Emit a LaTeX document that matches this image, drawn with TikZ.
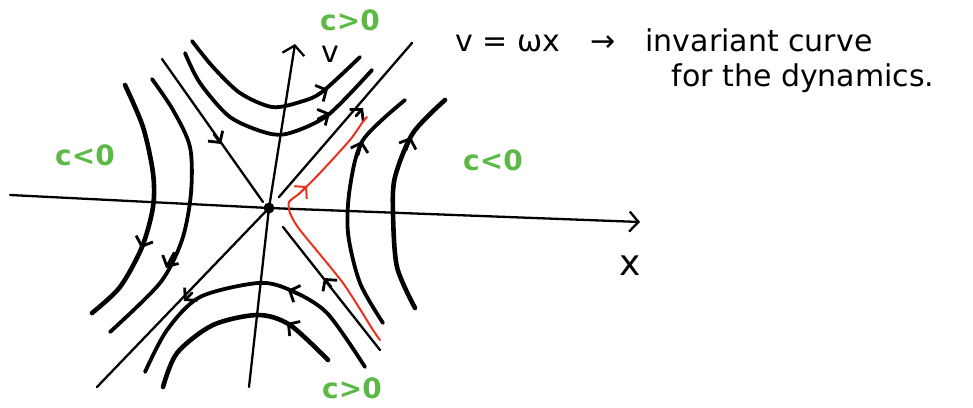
\documentclass[tikz,border=0pt]{standalone}
\usepackage{fontspec}
\setsansfont{DejaVu Sans}
\usetikzlibrary{arrows.meta}
\definecolor{regiongreen}{HTML}{5CB946}
\definecolor{curvered}{HTML}{E8321E}
\tikzset{
  flowline/.style={line width=3.8pt, line cap=round},
  sepline/.style={line width=2.3pt, line cap=round},
  flowtip/.style={line width=2.8pt, line cap=round, -{Straight Barb[length=8pt,width=18pt]}},
  regionlabel/.style={regiongreen, inner sep=0pt, font=\sffamily\bfseries\fontsize{28}{30}\selectfont},
  notetext/.style={anchor=west, font=\sffamily\fontsize{30}{32}\selectfont}
}

\begin{document}
\begin{tikzpicture}[x=1pt, y=-1pt]
  \useasboundingbox (0,0) rectangle (973,407);
  % axes
  \coordinate (O) at (269,208);
  \coordinate (xleft) at (10,195);
  \coordinate (xright) at (640,222);
  \coordinate (vbottom) at (249,387);
  \coordinate (vtop) at (295,44);
  \draw[sepline, -{Straight Barb[length=9pt,width=20pt]}] (xleft) -- (O) -- (xright);
  \draw[sepline, -{Straight Barb[length=9pt,width=22pt]}] (vbottom) -- (O) -- (vtop);
  \fill (O) circle (5.5pt);
  \node[font=\sffamily\fontsize{36}{36}\selectfont] (xlabel) at (630,266) {x};
  \node[inner sep=0pt, font=\sffamily\fontsize{30}{30}\selectfont] (vlabel) at (330,54) {v};

  % separatrices
  \draw[sepline] (162,59) -- (263,202);
  \draw[sepline] (380,350) -- (283,227);
  \draw[sepline] (O) -- (97,387);
  \draw[sepline] (279,197) -- (412,43);
  \draw[flowtip] (214,134) -- (221,144);
  \draw[flowtip] (331,287) -- (324,278);
  \draw[flowtip] (192,293) -- (184,301);
  \draw[flowtip] (356,116) -- (363,108);

  % trajectories
  \draw[flowline] plot[smooth] coordinates {(192,41) (213,67) (240,93) (272,107) (300,102) (322,92) (360,57)};
  \draw[flowline] plot[smooth] coordinates {(185,53) (200,83) (230,117) (267,133) (290,133) (328,115) (372,70)};
  \draw[flowline] plot[smooth] coordinates {(365,367) (327,313) (290,290) (258,283) (200,297) (167,330) (145,372)};
  \draw[flowline, line width=4.6pt] plot[smooth] coordinates {(328,360) (290,325) (258,315) (213,325) (177,353) (163,387)};
  \draw[flowline, line width=4.6pt] plot[smooth] coordinates {(125,85) (143,127) (153,173) (153,207) (142,247) (120,287) (92,313)};
  \draw[flowline] plot[smooth] coordinates {(152,79) (173,110) (190,147) (191,193) (182,240) (160,283) (110,332)};
  \draw[flowline] plot[smooth] coordinates {(383,323) (360,283) (348,233) (350,187) (363,140) (405,100)};
  \draw[flowline, line width=4.6pt] plot[smooth] coordinates {(415,308) (397,267) (393,213) (395,177) (413,133) (445,100)};
  \draw[flowtip] (318,94) -- (328,89);
  \draw[flowtip] (318,119) -- (330,113);
  \draw[flowtip] (300,295) -- (288,290);
  \draw[flowtip] (298,331) -- (287,323);
  \draw[flowtip] (146,235) -- (141,248);
  \draw[flowtip] (174,253) -- (166,268);
  \draw[flowtip] (358,155) -- (362,141);
  \draw[flowtip] (406,150) -- (411,137);

  % the invariant curve
  \draw[curvered, line width=2pt, line cap=round] plot[smooth, tension=0.4] coordinates {(380,340) (373,330) (343,283) (300,230) (290,213) (289,202) (300,193) (320,173) (350,140) (362,123) (367,117)};
  \draw[flowtip, curvered, line width=2pt] (299,194) -- (307,186);

  % regions
  \node[regionlabel] (ctop) at (350,20) {c>0};
  \node[regionlabel] (cleft) at (85,155) {c<0};
  \node[regionlabel] (cright) at (493,160) {c<0};
  \node[regionlabel] (cbottom) at (352,388) {c>0};

  % note
  \node[notetext] (note1) at (452,40) {v = ωx\quad →\quad invariant curve};
  \node[notetext] (note2) at (668,78) {for the dynamics.};
\end{tikzpicture}
\end{document}
